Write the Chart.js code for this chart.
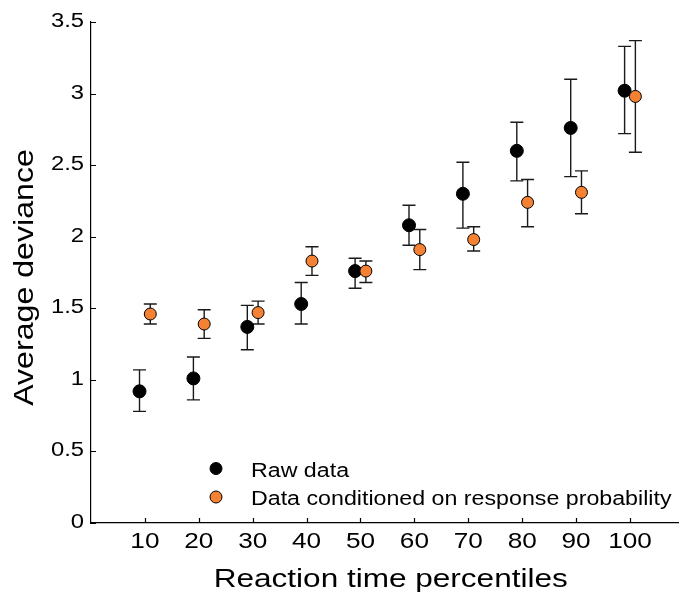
<!DOCTYPE html>
<html>
<head>
<meta charset="utf-8">
<script src="https://cdn.jsdelivr.net/npm/chart.js@4.4.1/dist/chart.umd.min.js"></script>
<style>
html, body { margin: 0; padding: 0; background: #fff; }
#wrap { width: 686px; height: 597px; }
</style>
</head>
<body>
<div id="wrap"><canvas id="chart"></canvas></div>
<script>
// values
var percentiles = [10, 20, 30, 40, 50, 60, 70, 80, 90, 100];
var rawMean = [0.92, 1.01, 1.37, 1.53, 1.76, 2.08, 2.30, 2.60, 2.76, 3.02];
var rawLow  = [0.78, 0.86, 1.21, 1.39, 1.64, 1.94, 2.06, 2.39, 2.42, 2.72];
var rawHigh = [1.07, 1.16, 1.52, 1.68, 1.85, 2.22, 2.52, 2.80, 3.10, 3.33];
var condMean = [1.46, 1.39, 1.47, 1.83, 1.76, 1.91, 1.98, 2.24, 2.31, 2.98];
var condLow  = [1.39, 1.29, 1.39, 1.73, 1.68, 1.77, 1.90, 2.07, 2.16, 2.59];
var condHigh = [1.53, 1.49, 1.55, 1.93, 1.83, 2.05, 2.07, 2.40, 2.46, 3.37];
var yTicks = [0, 0.5, 1, 1.5, 2, 2.5, 3, 3.5];
var yTickLabels = ['0', '0.5', '1', '1.5', '2', '2.5', '3', '3.5'];
var xTitle = 'Reaction time percentiles';
var yTitle = 'Average deviance';
var dodge = 1;

var FONT = "'Liberation Sans', Arial, Helvetica, sans-serif";
var SX = 1.19; // the original type is set a bit wide

function pts(means, shift) {
	return percentiles.map(function (p, i) { return { x: p + shift, y: means[i] }; });
}

function wideText(ctx, text, x, y, size, align, angle) {
	ctx.save();
	ctx.translate(x, y);
	if (angle) ctx.rotate(angle);
	ctx.scale(SX, 1);
	ctx.font = size + 'px ' + FONT;
	ctx.textAlign = align;
	ctx.textBaseline = 'alphabetic';
	ctx.fillStyle = '#000';
	ctx.fillText(text, 0, 0);
	ctx.restore();
}

// error bars, inward ticks, labels and the legend
var extras = {
	id: 'extras',
	beforeDatasetsDraw: function (chart) {
		var ctx = chart.ctx;
		var xs = chart.scales.x, ys = chart.scales.y;
		var sets = [[rawLow, rawHigh, -dodge], [condLow, condHigh, dodge]];
		ctx.save();
		ctx.strokeStyle = '#1a1a1a';
		ctx.lineWidth = 1.4;
		sets.forEach(function (s) {
			percentiles.forEach(function (p, i) {
				var px = xs.getPixelForValue(p + s[2]);
				var lo = ys.getPixelForValue(s[0][i]);
				var hi = ys.getPixelForValue(s[1][i]);
				ctx.beginPath();
				ctx.moveTo(px, lo); ctx.lineTo(px, hi);
				ctx.moveTo(px - 6.5, lo); ctx.lineTo(px + 6.5, lo);
				ctx.moveTo(px - 6.5, hi); ctx.lineTo(px + 6.5, hi);
				ctx.stroke();
			});
		});
		ctx.restore();
	},
	afterDraw: function (chart) {
		var ctx = chart.ctx;
		var xs = chart.scales.x, ys = chart.scales.y;
		var area = chart.chartArea;
		ctx.save();
		ctx.strokeStyle = '#000';
		ctx.lineWidth = 1.2;
		ctx.beginPath();
		yTicks.forEach(function (v) {
			var py = Math.round(ys.getPixelForValue(v)) + 0.5;
			ctx.moveTo(area.left, py); ctx.lineTo(area.left + 5, py);
		});
		percentiles.forEach(function (v) {
			var px = Math.round(xs.getPixelForValue(v)) + 0.5;
			ctx.moveTo(px, area.bottom); ctx.lineTo(px, area.bottom - 5);
		});
		ctx.stroke();
		ctx.restore();

		yTicks.forEach(function (v, i) {
			wideText(ctx, yTickLabels[i], area.left - 7, ys.getPixelForValue(v) + 5, 20, 'right');
		});
		percentiles.forEach(function (v) {
			wideText(ctx, String(v), xs.getPixelForValue(v), area.bottom + 25, 22, 'center');
		});
		wideText(ctx, xTitle, (area.left + area.right) / 2 + 6, area.bottom + 63.5, 26.5, 'center');
		wideText(ctx, yTitle, 33, (area.top + area.bottom) / 2 + 5, 27, 'center', -Math.PI / 2);

		// legend
		chart.data.datasets.forEach(function (ds, i) {
			var y = 468.5 + i * 28.5;
			ctx.save();
			ctx.beginPath();
			ctx.arc(216, y, 6, 0, Math.PI * 2);
			ctx.fillStyle = ds.backgroundColor;
			ctx.fill();
			ctx.lineWidth = 1;
			ctx.strokeStyle = '#000';
			ctx.stroke();
			ctx.restore();
			wideText(ctx, ds.label, 251, y + 8, 19.5, 'left');
		});
	}
};

new Chart(document.getElementById('chart'), {
	type: 'scatter',
	data: {
		datasets: [{
			label: 'Raw data',
			data: pts(rawMean, -dodge),
			backgroundColor: '#000000',
			borderColor: '#000000',
			borderWidth: 1,
			pointRadius: 6.5,
			order: 1
		}, {
			label: 'Data conditioned on response probability',
			data: pts(condMean, dodge),
			backgroundColor: '#f58233',
			borderColor: '#000000',
			borderWidth: 1,
			pointRadius: 6,
			order: 0
		}]
	},
	options: {
		responsive: true,
		maintainAspectRatio: false,
		animation: false,
		layout: { padding: { top: 22, right: 0, left: 0, bottom: 0 } },
		plugins: {
			legend: { display: false },
			tooltip: { enabled: false }
		},
		scales: {
			x: {
				type: 'linear',
				min: 0,
				max: 109,
				afterFit: function (s) { s.height = 74; },
				grid: { display: false },
				border: { display: true, color: '#000', width: 1.2 },
				ticks: { display: false, stepSize: 10 }
			},
			y: {
				min: 0,
				max: 3.5,
				afterFit: function (s) { s.width = 91; },
				grid: { display: false },
				border: { display: true, color: '#000', width: 1.2 },
				ticks: { display: false, stepSize: 0.5 }
			}
		}
	},
	plugins: [extras]
});
</script>
</body>
</html>
